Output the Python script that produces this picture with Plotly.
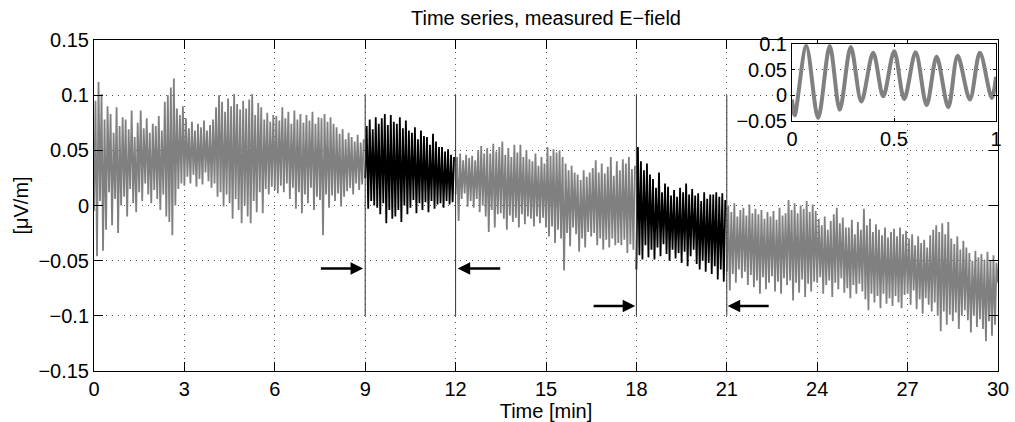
import plotly.graph_objects as go

# ---------------- data ----------------
# sampling grid of the drawn series (minutes)
seg_start_min = [0, 9, 12, 18, 21]
sample_step_min = 0.05

# measured E-field [uV/m], gray: 0-9 min
efield_a = [
    -0.005, 0.095, -0.046, 0.112, 0.004, 0.101, -0.041, 0.078, -0.022, 0.090,
    0.012, 0.083, -0.018, 0.066, 0.006, 0.089, -0.025, 0.072, 0.000, 0.080,
    0.008, 0.078, -0.010, 0.069, 0.015, 0.086, 0.002, 0.062, -0.006, 0.075,
    0.012, 0.086, 0.004, 0.070, 0.020, 0.079, 0.010, 0.066, 0.002, 0.074,
    0.014, 0.072, 0.006, 0.081, -0.004, 0.068, 0.010, 0.094, -0.010, 0.100,
    -0.015, 0.107, -0.027, 0.115, 0.000, 0.088, 0.015, 0.082, 0.020, 0.090,
    0.018, 0.079, 0.026, 0.070, 0.020, 0.076, 0.028, 0.068, 0.017, 0.074,
    0.024, 0.071, 0.019, 0.077, 0.030, 0.068, 0.022, 0.073, 0.016, 0.078,
    0.020, 0.089, 0.008, 0.100, 0.012, 0.094, -0.001, 0.085, 0.010, 0.097,
    0.002, 0.090, -0.012, 0.101, 0.006, 0.092, -0.004, 0.087, -0.016, 0.095,
    0.000, 0.088, -0.010, 0.096, -0.016, 0.101, 0.004, 0.082, -0.006, 0.093,
    0.012, 0.089, -0.007, 0.078, 0.015, 0.084, 0.010, 0.076, 0.017, 0.082,
    0.014, 0.081, 0.011, 0.077, 0.018, 0.089, 0.012, 0.079, 0.020, 0.085,
    0.006, 0.074, 0.016, 0.086, -0.003, 0.078, 0.012, 0.083, -0.007, 0.075,
    0.010, 0.082, 0.002, 0.077, 0.016, 0.085, -0.004, 0.074, 0.008, 0.080,
    0.005, 0.079, -0.027, 0.083, 0.010, 0.076, -0.002, 0.080, 0.009, 0.074,
    0.004, 0.071, 0.011, 0.065, -0.001, 0.069, 0.008, 0.060, 0.013, 0.066,
    0.016, 0.062, 0.010, 0.058, 0.020, 0.064, 0.014, 0.057, 0.019, 0.060,
]
# black: 9-12 min
efield_b = [
    0.025, 0.072, -0.003, 0.078, 0.004, 0.069, 0.000, 0.080, -0.002, 0.074,
    -0.008, 0.079, 0.002, 0.083, -0.016, 0.073, -0.004, 0.082, -0.012, 0.076,
    -0.010, 0.074, -0.004, 0.080, -0.015, 0.070, 0.000, 0.077, -0.008, 0.068,
    -0.002, 0.066, 0.005, 0.071, -0.007, 0.060, 0.002, 0.068, -0.004, 0.063,
    0.003, 0.062, -0.006, 0.055, 0.004, 0.065, -0.003, 0.058, 0.001, 0.053,
    0.002, 0.053, -0.002, 0.049, 0.004, 0.051, 0.001, 0.046, 0.003, 0.044,
]
# gray: 12-18 min
efield_c = [
    0.010, 0.044, -0.014, 0.047, 0.006, 0.041, 0.011, 0.046, -0.001, 0.043,
    0.004, 0.045, -0.002, 0.041, 0.006, 0.050, -0.006, 0.054, 0.000, 0.047,
    -0.010, 0.052, -0.024, 0.047, -0.004, 0.056, -0.020, 0.049, -0.008, 0.053,
    -0.007, 0.058, -0.012, 0.046, -0.022, 0.052, -0.009, 0.044, -0.015, 0.055,
    -0.011, 0.048, -0.020, 0.055, -0.008, 0.044, -0.017, 0.050, -0.010, 0.042,
    -0.012, 0.040, -0.019, 0.047, -0.010, 0.036, -0.016, 0.044, -0.011, 0.038,
    -0.020, 0.053, -0.028, 0.045, -0.019, 0.051, -0.034, 0.048, -0.022, 0.050,
    -0.030, 0.044, -0.059, 0.038, -0.025, 0.032, -0.037, 0.036, -0.020, 0.030,
    -0.026, 0.028, -0.042, 0.023, -0.030, 0.032, -0.038, 0.026, -0.024, 0.030,
    -0.028, 0.034, -0.025, 0.041, -0.036, 0.030, -0.030, 0.038, -0.040, 0.029,
    -0.031, 0.035, -0.038, 0.044, -0.030, 0.027, -0.036, 0.040, -0.034, 0.032,
    -0.036, 0.042, -0.031, 0.038, -0.043, 0.044, -0.035, 0.033, -0.040, 0.036,
]
# black: 18-21 min
efield_d = [
    -0.058, 0.053, -0.045, 0.040, -0.049, 0.032, -0.036, 0.038, -0.047, 0.028,
    -0.040, 0.024, -0.049, 0.016, -0.038, 0.030, -0.046, 0.012, -0.035, 0.020,
    -0.044, 0.017, -0.050, 0.009, -0.040, 0.014, -0.048, 0.008, -0.043, 0.016,
    -0.052, 0.012, -0.042, 0.020, -0.055, 0.010, -0.046, 0.015, -0.040, 0.009,
    -0.053, 0.011, -0.058, 0.004, -0.050, 0.012, -0.060, 0.006, -0.052, 0.010,
    -0.062, 0.010, -0.055, 0.012, -0.067, 0.008, -0.058, 0.011, -0.069, 0.005,
]
# gray: 21-30 min
efield_e = [
    -0.060, 0.000, -0.077, -0.006, -0.062, 0.002, -0.070, -0.010, -0.058, -0.004,
    -0.066, -0.002, -0.060, -0.009, -0.072, 0.001, -0.063, -0.007, -0.074, -0.003,
    -0.068, -0.008, -0.080, -0.004, -0.065, -0.012, -0.076, -0.006, -0.070, -0.010,
    -0.064, -0.005, -0.078, -0.013, -0.069, -0.002, -0.080, -0.009, -0.066, -0.007,
    -0.072, 0.005, -0.068, -0.004, -0.086, 0.002, -0.070, -0.007, -0.079, 0.000,
    -0.067, -0.003, -0.083, 0.004, -0.071, -0.006, -0.078, 0.001, -0.069, -0.005,
    -0.070, -0.012, -0.065, -0.018, -0.080, -0.010, -0.072, -0.022, -0.068, -0.014,
    -0.083, -0.008, -0.070, -0.002, -0.076, -0.016, -0.066, -0.011, -0.079, -0.020,
    -0.075, -0.020, -0.084, -0.013, -0.072, -0.026, -0.080, -0.015, -0.071, -0.022,
    -0.078, -0.003, -0.085, -0.018, -0.095, -0.012, -0.080, -0.024, -0.088, -0.017,
    -0.082, -0.022, -0.093, -0.027, -0.080, -0.020, -0.089, -0.029, -0.084, -0.024,
    -0.091, -0.021, -0.082, -0.028, -0.088, -0.020, -0.093, -0.026, -0.081, -0.023,
    -0.080, -0.030, -0.090, -0.026, -0.077, -0.036, -0.094, -0.028, -0.085, -0.034,
    -0.098, -0.031, -0.084, -0.038, -0.090, -0.027, -0.096, -0.022, -0.088, -0.018,
    -0.100, -0.024, -0.114, -0.016, -0.096, -0.026, -0.108, -0.015, -0.099, -0.030,
    -0.105, -0.035, -0.097, -0.028, -0.112, -0.040, -0.100, -0.032, -0.095, -0.038,
    -0.104, -0.043, -0.115, -0.050, -0.100, -0.041, -0.110, -0.047, -0.103, -0.044,
    -0.112, -0.049, -0.123, -0.042, -0.105, -0.050, -0.118, -0.045, -0.108, -0.052,
    -0.070,
]
segments = [efield_a, efield_b, efield_c, efield_d, efield_e]
segment_is_marked = [False, True, False, True, False]

# vertical markers at the interval borders
marker_times = [9, 12, 18, 21]
marker_lo = -0.1
marker_hi = 0.1

# arrows pointing at the markers
arrow_tail_t = [7.48, 13.53, 16.53, 22.44]
arrow_tip_t = [8.93, 12.07, 17.96, 21.03]
arrow_level = [-0.057, -0.057, -0.091, -0.091]

# inset: first second of the record (peaks / troughs)
inset_t = [0.0, 0.013, 0.07, 0.128, 0.185, 0.234, 0.288, 0.34, 0.398, 0.447,
           0.501, 0.55, 0.606, 0.66, 0.709, 0.766, 0.812, 0.872, 0.921, 0.979, 1.0]
inset_v = [-0.008, -0.039, 0.096, -0.044, 0.096, -0.028, 0.094, -0.012, 0.083, -0.002,
           0.086, -0.007, 0.084, -0.019, 0.075, -0.023, 0.077, -0.008, 0.083, -0.005, 0.036]

x_range = [0, 30]
y_range = [-0.15, 0.15]
x_ticks = [0, 3, 6, 9, 12, 15, 18, 21, 24, 27, 30]
y_ticks = [-0.15, -0.1, -0.05, 0, 0.05, 0.1, 0.15]
y_ticktext = ["\u22120.15", "\u22120.1", "\u22120.05", "0", "0.05", "0.1", "0.15"]
inset_x_ticks = [0, 0.5, 1]
inset_y_ticks = [-0.05, 0, 0.05, 0.1]
inset_y_ticktext = ["\u22120.05", "0", "0.05", "0.1"]

# ---------------- styling ----------------
GRAY = "#808080"
BLACK = "#000000"
FONT = "Liberation Sans, Arial, Helvetica, sans-serif"
FS = 20
GRID = dict(showgrid=True, gridcolor="#555555", gridwidth=1, griddash="1px,5px")

fig = go.Figure()

for start, vals, marked in zip(seg_start_min, segments, segment_is_marked):
    ts = [start + i * sample_step_min for i in range(len(vals))]
    fig.add_trace(go.Scatter(
        x=ts, y=vals, mode="lines",
        line=dict(color=BLACK if marked else GRAY, width=1.8),
        hoverinfo="skip", showlegend=False, xaxis="x", yaxis="y",
    ))

mx, my = [], []
for t in marker_times:
    mx += [t, t, None]
    my += [marker_lo, marker_hi, None]
fig.add_trace(go.Scatter(x=mx, y=my, mode="lines",
                         line=dict(color="#333333", width=1),
                         hoverinfo="skip", showlegend=False))

fig.add_trace(go.Scatter(x=inset_t, y=inset_v, mode="lines",
                         line=dict(color=GRAY, width=4, shape="spline", smoothing=0.9),
                         hoverinfo="skip", showlegend=False,
                         xaxis="x2", yaxis="y2"))

for t0, t1, v in zip(arrow_tail_t, arrow_tip_t, arrow_level):
    fig.add_annotation(x=t1, y=v, ax=t0, ay=v, xref="x", yref="y",
                       axref="x", ayref="y", text="", showarrow=True,
                       arrowhead=2, arrowsize=1.0, arrowwidth=2.5,
                       arrowcolor=BLACK, standoff=0)

# plot area in pixels: x 94..998, y 40..371
ins_x = [(792 - 94) / 904, (996 - 94) / 904]
ins_y = [(371 - 121) / 331, (371 - 44) / 331]

# white patch (in main-axis units) so the main grid does not show through the inset
fig.add_shape(type="rect", xref="x", yref="y",
              x0=x_range[0] + ins_x[0] * (x_range[1] - x_range[0]),
              x1=x_range[0] + ins_x[1] * (x_range[1] - x_range[0]),
              y0=y_range[0] + ins_y[0] * (y_range[1] - y_range[0]),
              y1=y_range[0] + ins_y[1] * (y_range[1] - y_range[0]),
              fillcolor="white", line=dict(width=0), layer="between")

axis_common = dict(showline=True, linecolor=BLACK, linewidth=1, mirror="ticks",
                   ticks="inside", tickcolor=BLACK, zeroline=False, automargin=False,
                   tickfont=dict(family=FONT, size=FS, color=BLACK))

fig.update_layout(
    width=1015, height=422,
    margin=dict(l=94, r=17, t=40, b=51, autoexpand=False),
    paper_bgcolor="white", plot_bgcolor="white",
    font=dict(family=FONT, size=FS, color=BLACK),
    showlegend=False,
    title=dict(text="Time series, measured E\u2212field", x=0.5, xref="paper",
               xanchor="center", y=1 - 18 / 422, yref="container", yanchor="middle",
               font=dict(family=FONT, size=FS, color=BLACK)),
    xaxis=dict(range=x_range, tickvals=x_ticks, ticklen=9,
               title=dict(text="Time [min]", standoff=1,
                          font=dict(family=FONT, size=FS, color=BLACK)),
               **GRID, **axis_common),
    yaxis=dict(range=y_range, tickvals=y_ticks, ticktext=y_ticktext, ticklen=9,
               title=dict(text="[\u03bcV/m]", standoff=4,
                          font=dict(family=FONT, size=FS, color=BLACK)),
               **GRID, **axis_common),
    xaxis2=dict(domain=ins_x, anchor="y2", range=[0, 1], tickvals=inset_x_ticks,
                ticklen=3, **GRID, **axis_common),
    yaxis2=dict(domain=ins_y, anchor="x2", range=[-0.05, 0.1], tickvals=inset_y_ticks,
                ticktext=inset_y_ticktext, ticklen=3, **GRID, **axis_common),
)

fig.write_html("out.html")
